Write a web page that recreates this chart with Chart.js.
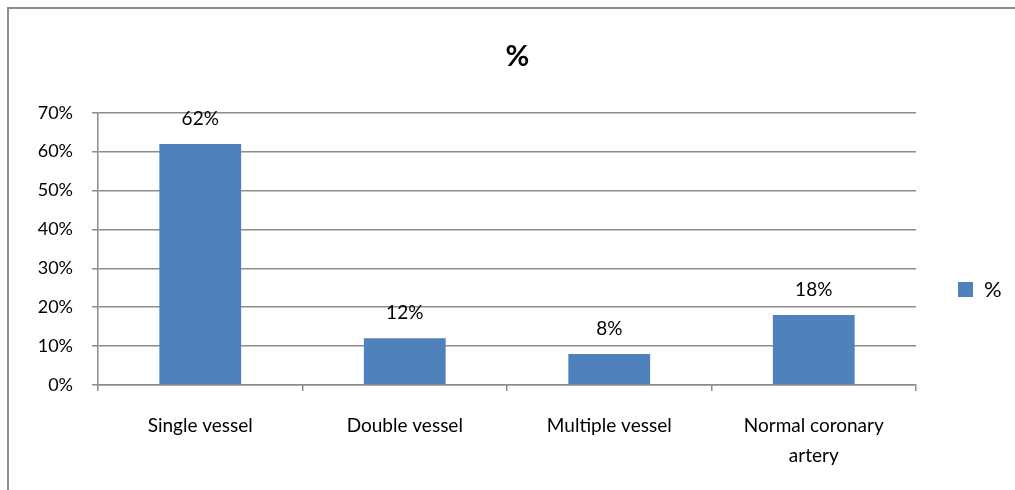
<!DOCTYPE html>
<html>
<head>
<meta charset="utf-8">
<script src="https://cdn.jsdelivr.net/npm/chart.js@4/dist/chart.umd.min.js"></script>
<style>
    html, body { margin: 0; padding: 0; background: #fff; overflow: hidden; }
    #wrap { position: relative; width: 1015px; height: 490px; }
    #frame { position: absolute; left: 7px; top: 7px; width: 1040px; height: 520px; border: 2px solid #8c8c8c; box-sizing: border-box; pointer-events: none; }
</style>
</head>
<body>
<div id="wrap">
    <canvas id="graph1" width="1015" height="490"></canvas>
    <div id="frame"></div>
</div>
<script>
var categories = ['Single vessel', 'Double vessel', 'Multiple vessel', ['Normal coronary', 'artery']];
var percentValues = [62, 12, 8, 18];
var yTicks = [0, 10, 20, 30, 40, 50, 60, 70];

var fontFamily = 'Lato, "Open Sans", sans-serif';

// value labels above each bar
var barLabels = {
    id: 'barLabels',
    afterDatasetsDraw: function(chart) {
        var ctx = chart.ctx;
        var meta = chart.getDatasetMeta(0);
        ctx.save();
        ctx.font = '19px ' + fontFamily;
        ctx.fillStyle = '#000';
        ctx.textAlign = 'center';
        ctx.textBaseline = 'middle';
        meta.data.forEach(function(bar, i) {
            ctx.fillText(percentValues[i] + '%', bar.x, bar.y - 25);
        });
        ctx.restore();
    }
};

// keep legend and title where the reference has them
var placeBoxes = {
    id: 'placeBoxes',
    afterInit: function(chart) {
        var legend = chart.legend;
        var fit = legend.fit;
        legend.fit = function() {
            fit.call(this);
            this.width = 99;
        };
    },
    afterLayout: function(chart) {
        chart.legend.top = 89;
        chart.titleBlock.left = 20;
    }
};

var ctx1 = document.getElementById('graph1').getContext('2d');
var graph1 = new Chart(ctx1, {
    type: 'bar',
    data: {
        labels: categories,
        datasets: [{
            label: '%',
            data: percentValues,
            backgroundColor: '#4F81BD',
            borderColor: '#4F81BD',
            borderWidth: 0,
            barPercentage: 0.4,
            categoryPercentage: 1
        }]
    },
    plugins: [barLabels, placeBoxes],
    options: {
        responsive: false,
        animation: false,
        layout: { padding: 0 },
        plugins: {
            title: {
                display: true,
                text: '%',
                color: '#000',
                font: { family: fontFamily, size: 29, weight: 'bold' },
                padding: { top: 39, bottom: 39 }
            },
            legend: {
                position: 'right',
                labels: {
                    boxWidth: 15,
                    boxHeight: 15,
                    padding: 42,
                    color: '#000',
                    font: { family: fontFamily, size: 22 }
                }
            },
            tooltip: { enabled: false }
        },
        scales: {
            x: {
                grid: {
                    drawOnChartArea: false,
                    drawTicks: true,
                    tickLength: 6,
                    color: '#8c8c8c',
                    lineWidth: 1.5
                },
                border: { color: '#8c8c8c', width: 1.5 },
                ticks: {
                    color: '#000',
                    padding: 20,
                    maxRotation: 0,
                    font: { family: fontFamily, size: 19, lineHeight: 1.58 }
                },
                afterFit: function(scale) { scale.height = 105; }
            },
            y: {
                min: 0,
                max: 70,
                afterBuildTicks: function(scale) {
                    scale.ticks = yTicks.map(function(v) { return { value: v }; });
                },
                grid: {
                    color: '#8c8c8c',
                    lineWidth: 1.5,
                    tickLength: 6
                },
                border: { color: '#8c8c8c', width: 1.5 },
                ticks: {
                    color: '#000',
                    padding: 19,
                    font: { family: fontFamily, size: 18 },
                    callback: function(value) { return value + '%'; }
                },
                afterFit: function(scale) { scale.width = 98; }
            }
        }
    }
});
</script>
</body>
</html>
